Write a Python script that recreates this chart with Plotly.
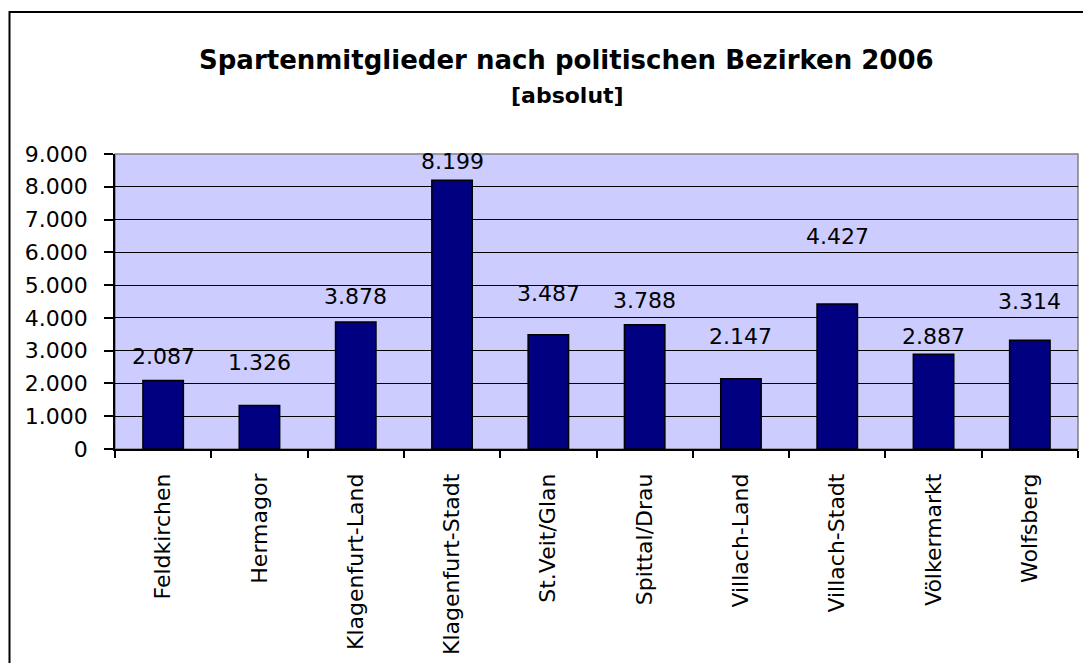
import plotly.graph_objects as go

categories = ["Feldkirchen", "Hermagor", "Klagenfurt-Land", "Klagenfurt-Stadt", "St.Veit/Glan",
              "Spittal/Drau", "Villach-Land", "Villach-Stadt", "Völkermarkt", "Wolfsberg"]
members = [2087, 1326, 3878, 8199, 3487, 3788, 2147, 4427, 2887, 3314]
y_ticks = [0, 1000, 2000, 3000, 4000, 5000, 6000, 7000, 8000, 9000]

title_text = "Spartenmitglieder nach politischen Bezirken 2006"
subtitle_text = "[absolut]"

# label vertical offsets in pixels above bar top (style)
label_shift = [24, 43, 25, 19, 41, 24, 42, 67, 18, 39]

FONT = "DejaVu Sans"

def fmt(v):
    return f"{v:,}".replace(",", ".")

W, H = 1083, 663
PL, PR, PT, PB = 115, 1078, 154, 449  # plot area in page pixels
L, R, T, B = PL, W - PR, PT, H - PB
pw, ph = W - L - R, H - T - B

def px_x(p):
    return (p - L) / pw

def px_y(p):
    return (H - B - p) / ph

fig = go.Figure()
fig.add_trace(go.Bar(
    x=categories, y=members,
    marker=dict(color="#000080", line=dict(color="black", width=1.5)),
    width=0.42,
    hoverinfo="skip",
))

for c, v, s in zip(categories, members, label_shift):
    fig.add_annotation(x=c, y=v, text=fmt(v), showarrow=False, yanchor="middle",
                       yshift=s, font=dict(family=FONT, size=22, color="black"))

fig.add_annotation(xref="paper", yref="paper", x=px_x(566), y=px_y(60), text="<b>" + title_text + "</b>",
                   showarrow=False, xanchor="center", yanchor="middle",
                   font=dict(family=FONT, size=26, color="black"))
fig.add_annotation(xref="paper", yref="paper", x=px_x(567), y=px_y(95), text="<b>" + subtitle_text + "</b>",
                   showarrow=False, xanchor="center", yanchor="middle",
                   font=dict(family=FONT, size=22, color="black"))

# outer chart border
fig.add_shape(type="rect", xref="paper", yref="paper",
              x0=px_x(9.5), x1=px_x(1100), y0=px_y(690), y1=px_y(12),
              line=dict(color="black", width=2), fillcolor="rgba(0,0,0,0)", layer="above")
# plot area border (gray)
fig.add_shape(type="rect", xref="paper", yref="paper", x0=0, x1=1, y0=0, y1=1,
              line=dict(color="#808080", width=1.5), fillcolor="rgba(0,0,0,0)", layer="below")

fig.update_layout(
    width=W, height=H,
    margin=dict(l=L, r=R, t=T, b=B, pad=0),
    paper_bgcolor="white", plot_bgcolor="#CCCCFF",
    separators=",.",
    showlegend=False,
    font=dict(family=FONT, size=22, color="black"),
)
fig.update_xaxes(
    type="category", tickangle=-90, tickson="boundaries",
    ticks="outside", ticklen=7, tickcolor="black", tickwidth=1.5,
    showline=True, linecolor="black", linewidth=1.5,
    showgrid=False, ticklabelstandoff=14,
    tickfont=dict(family=FONT, size=22, color="black"),
)
fig.update_yaxes(
    range=[0, 9000], tickvals=y_ticks, tickformat=",d",
    ticks="outside", ticklen=9, tickcolor="black", tickwidth=1.5,
    showline=True, linecolor="black", linewidth=1.5,
    showgrid=True, gridcolor="black", gridwidth=1.2,
    zeroline=False, ticklabelstandoff=12,
    tickfont=dict(family=FONT, size=22, color="black"),
)

fig.write_html("out.html", config={"displayModeBar": False},
               post_script="document.body.style.margin='0';document.body.style.overflow='hidden';")
